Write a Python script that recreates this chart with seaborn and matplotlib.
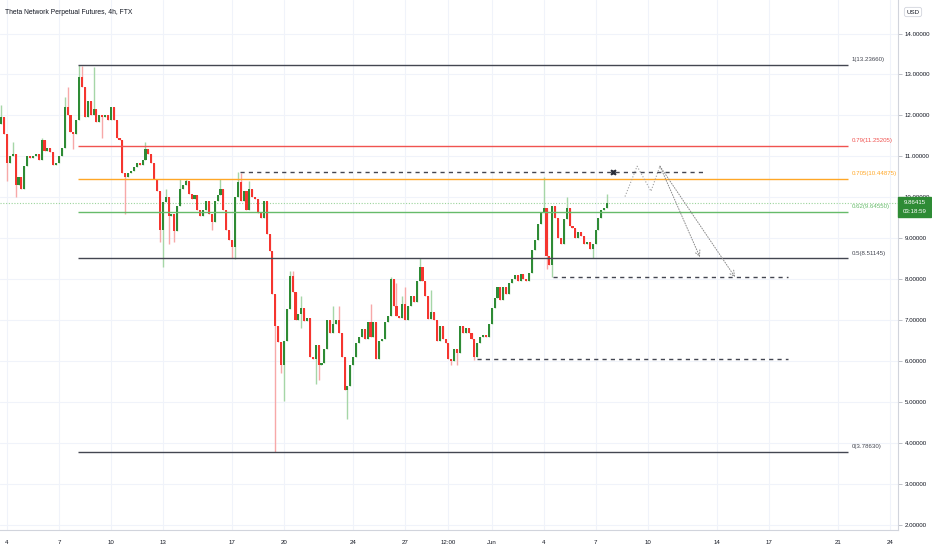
import matplotlib.pyplot as plt
import numpy as np
import pandas as pd
import seaborn as sns
from matplotlib import font_manager as fm
from matplotlib.patches import Rectangle

sns.set_style("white")
plt.rcParams["font.family"] = ["Liberation Sans", "DejaVu Sans"]

title = "Theta Network Perpetual Futures, 4h, FTX"

# 4h closes (first candle May 3 16:00)
first_open = 11.8
closes = [
    11.95, 11.55, 10.85, 11.0, 11.05, 10.3, 10.5, 10.2, 10.76, 11.0,
    10.95, 11.0, 11.05, 10.9, 11.4, 11.12, 11.2, 11.1, 10.8, 10.85,
    11.0, 11.2, 12.2, 12.0, 11.6, 11.54, 11.9, 12.93, 12.7, 11.95,
    12.35, 12.0, 12.15, 11.85, 12.0, 11.95, 12.0, 11.88, 12.2, 11.9,
    11.45, 11.4, 10.6, 10.5, 10.6, 10.65, 10.75, 10.85, 10.8, 10.9,
    11.17, 11.05, 10.85, 10.45, 10.15, 9.2, 9.88, 10.0, 9.55, 9.6,
    9.17, 9.8, 10.2, 10.3, 10.4, 10.07, 9.95, 10.05, 9.7, 9.55,
    9.7, 9.9, 9.6, 9.4, 9.9, 10.05, 10.2, 9.7, 9.2, 8.95,
    8.78, 10.0, 10.37, 9.9, 10.15, 9.7, 10.2, 10.0, 9.95, 9.63,
    9.5, 9.9, 9.1, 8.7, 7.64, 6.85, 6.46, 5.9, 6.49, 7.27,
    8.07, 7.68, 7.0, 7.15, 7.3, 6.98, 7.05, 6.1, 6.05, 6.4,
    5.9, 5.95, 6.3, 7.0, 6.7, 6.9, 7.0, 6.7, 6.1, 5.3,
    5.4, 5.9, 6.1, 6.45, 6.6, 6.78, 6.55, 6.95, 6.6, 6.95,
    6.05, 6.5, 6.55, 6.95, 7.1, 8.0, 7.35, 7.1, 7.05, 7.4,
    7.0, 7.35, 7.6, 7.45, 7.95, 8.3, 7.95, 7.6, 7.03, 7.2,
    7.0, 6.5, 6.85, 6.55, 6.45, 6.05, 6.0, 6.3, 6.2, 6.85,
    6.7, 6.8, 6.7, 6.55, 6.1, 6.45, 6.6, 6.65, 6.6, 6.9,
    7.3, 7.55, 7.8, 7.5, 7.8, 7.65, 7.9, 8.0, 8.1, 7.95,
    8.12, 8.0, 7.95, 8.15, 8.72, 8.97, 9.35, 9.65, 9.75, 8.56,
    8.35, 9.78, 9.5, 9.0, 8.85, 9.46, 9.75, 9.3, 9.25, 9.0,
    9.15, 9.05, 8.85, 8.9, 8.75, 8.85, 9.2, 9.5, 9.7, 9.75,
    9.86415,
]

# visible wick extremes (candle index -> price)
high_wicks = {
    0: 12.25, 4: 11.34, 14: 11.45, 22: 12.44, 23: 12.7, 27: 13.2366, 28: 13.2,
    32: 13.19, 50: 11.34, 57: 10.2, 62: 10.44, 64: 10.46, 76: 10.46, 82: 10.63,
    83: 10.6, 86: 10.4, 100: 8.2, 101: 8.2, 104: 7.6, 115: 7.35, 117: 7.34,
    128: 7.39, 135: 8.05, 137: 7.9, 139: 7.6, 140: 7.8, 145: 8.53, 149: 7.75,
    188: 10.49, 196: 10.02, 210: 10.07,
}
low_wicks = {
    2: 10.4, 5: 10.02, 25: 11.17, 35: 11.46, 43: 9.59, 55: 8.9, 56: 8.29,
    58: 8.85, 60: 8.9, 73: 9.2, 80: 8.53, 81: 8.5, 95: 3.7863, 97: 5.7,
    98: 5.02, 104: 6.8, 109: 5.44, 110: 5.55, 120: 4.59, 156: 5.9, 158: 5.9,
    164: 6.03, 189: 8.24, 191: 8.05, 205: 8.53,
}

fib_levels = [1, 0.79, 0.705, 0.62, 0.5, 0]
fib_prices = [13.2366, 11.25205, 10.44875, 9.6455, 8.51145, 3.7863]
fib_colors = ["#434651", "#f05350", "#ffa726", "#66bb6a", "#434651", "#434651"]
fib_start, fib_end = 4.10, 48.58

# days counted from May 4
date_ticks = [0, 3, 6, 9, 13, 16, 20, 23, 25.5, 28, 31, 34, 37, 41, 44, 48, 51]
date_labels = ["4", "7", "10", "13", "17", "20", "24", "27", "12:00", "Jun",
               "4", "7", "10", "14", "17", "21", "24"]
price_ticks = list(range(2, 15))

dashed_prices = [10.63, 8.05, 6.05]
dashed_start = [13.46, 31.54, 27.15]
dashed_end = [40.32, 45.12, 45.12]

proj_days = [35.70, 36.40, 37.20, 37.72]
proj_prices = [10.02, 10.76, 10.15, 10.76]
target_days = [40.03, 42.06]
target_prices = [8.54, 8.05]

last_price = 9.86415
countdown = "03:18:59"

# narrow font for the tiny chart texts if it is there
small_family, size_k = "Liberation Sans", 1.0
try:
    path = fm.findfont(fm.FontProperties(family="Liberation Sans Narrow"),
                       fallback_to_default=False)
    if "Narrow" in path:
        small_family, size_k = "Liberation Sans Narrow", 1.2
except ValueError:
    pass
fs = 4.4 * size_k

# ---- build candles
df = pd.DataFrame({"close": closes})
df["open"] = [first_open] + closes[:-1]
df["day"] = -1 / 3 + np.arange(len(df)) / 6
body_top = df[["open", "close"]].max(axis=1)
body_bot = df[["open", "close"]].min(axis=1)
df["high"] = [max(high_wicks.get(i, t), t) for i, t in enumerate(body_top)]
df["low"] = [min(low_wicks.get(i, b), b) for i, b in enumerate(body_bot)]
up = df["close"] >= df["open"]

fig = plt.figure(figsize=(9.32, 5.5), dpi=100)
ax = fig.add_axes([0, 20 / 550, 898 / 932, 530 / 550])

ax.set_xlim(-0.404, 51.47)
ax.set_ylim(1.879, 14.818)

ax.vlines(df["day"], df["low"], df["high"],
          colors=np.where(up, "#a5d6a7", "#f7a8a8"), lw=1.0, zorder=3)
ax.bar(df["day"], np.maximum(body_top - body_bot, 0.03), bottom=body_bot,
       width=0.12, color=np.where(up, "#2e8b35", "#f5352f"), lw=0, zorder=4)

ax.axhline(last_price, color="#9bd49b", ls=(0, (1, 1.5)), lw=0.8, zorder=2)

for lvl, p, c in zip(fib_levels, fib_prices, fib_colors):
    ax.hlines(p, fib_start, fib_end, colors=c, lw=1.0, zorder=5)
    ax.text(fib_end + 0.22, p + 0.13, f"{lvl}({p:.5f})", color=c,
            fontsize=fs, family=small_family, va="center", ha="left")

for p, s, e in zip(dashed_prices, dashed_start, dashed_end):
    ax.hlines(p, s, e, colors="#434651", lw=1.0, ls=(0, (3, 3)), zorder=5)

ax.plot(35.0, 10.63, marker="X", ms=5, color="#2a2e39", mec="none", zorder=6)

sns.lineplot(x=proj_days, y=proj_prices, ax=ax, sort=False, color="#9e9e9e",
             lw=0.8, linestyle=":", zorder=6)
for td, tp in zip(target_days, target_prices):
    ax.annotate("", xy=(td, tp), xytext=(proj_days[-1], proj_prices[-1]),
                arrowprops=dict(arrowstyle="->", color="#8a8a8a", lw=0.7,
                                linestyle=":", shrinkA=0, shrinkB=0), zorder=6)

# axes styling
ax.yaxis.tick_right()
ax.set_yticks(price_ticks)
ax.set_yticklabels([f"{v:.5f}" for v in price_ticks], family=small_family)
ax.set_xticks(date_ticks)
ax.set_xticklabels(date_labels, family=small_family)
ax.tick_params(axis="both", labelsize=fs, colors="#b2b5be", labelcolor="#131722",
               length=3, width=0.6)
ax.tick_params(axis="y", pad=2)
ax.tick_params(axis="x", pad=4)
ax.grid(True, color="#f0f3fa", lw=0.8)
ax.set_axisbelow(True)
for side in ["left", "top"]:
    ax.spines[side].set_visible(False)
for side in ["right", "bottom"]:
    ax.spines[side].set_color("#d1d4dc")
    ax.spines[side].set_linewidth(0.8)

fig.text(5 / 932, 1 - 12 / 550, title, fontsize=4.9 * size_k, family=small_family,
         color="#131722", va="center", ha="left")

# last price tag
fig.patches.append(Rectangle((898 / 932, (550 - 217) / 550), 33 / 932, 20 / 550,
                             transform=fig.transFigure, color="#2e8b35", zorder=10))
fig.text(914.5 / 932, 1 - 202.5 / 550, f"{last_price:.5f}", fontsize=fs,
         family=small_family, color="white", ha="center", va="center", zorder=11)
fig.text(914.5 / 932, 1 - 211.5 / 550, countdown, fontsize=fs,
         family=small_family, color="white", ha="center", va="center", zorder=11)

fig.text(913 / 932, 1 - 12 / 550, "USD", fontsize=fs, family=small_family,
         color="#131722", ha="center", va="center",
         bbox=dict(boxstyle="round,pad=0.35", fc="white", ec="#d1d4dc", lw=0.6))

fig.savefig("out.png", dpi=100)
